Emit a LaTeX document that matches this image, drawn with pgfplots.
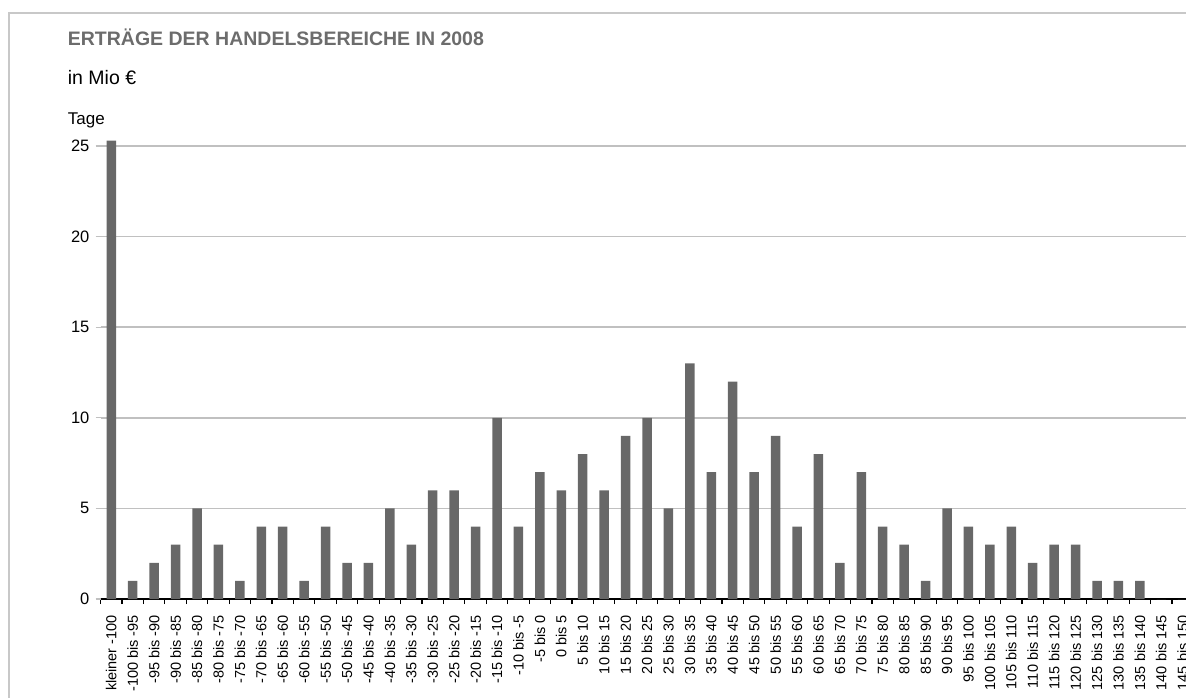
\documentclass[border=0pt]{standalone}
\usepackage{pgfplots}
\pgfplotsset{compat=1.18}
\usepackage{fontspec}
\setmainfont{Liberation Sans}

\definecolor{bargray}{RGB}{104,104,104}
\definecolor{gridgray}{RGB}{192,192,192}
\definecolor{framegray}{RGB}{200,200,200}
\definecolor{titlegray}{RGB}{108,108,108}

\begin{document}
\begin{tikzpicture}[x=1pt,y=1pt]
\path[use as bounding box] (0pt,0pt) rectangle (1186pt,697pt);
\clip (0pt,0pt) rectangle (1186pt,697pt);
% outer frame (only left and top visible in the crop)
\draw[framegray, line width=2.5pt] (9pt,-10pt) -- (9pt,684pt) -- (1200pt,684pt);

\node[anchor=base west, inner sep=0, text=titlegray,
      font=\fontsize{19.5}{22}\selectfont\bfseries] at (67.7pt,651pt)
      {ERTRÄGE DER HANDELSBEREICHE IN 2008};
\node[anchor=base west, inner sep=0, font=\fontsize{19.5}{22}\selectfont]
      at (67.7pt,612pt) {in Mio €};
\node[anchor=base west, inner sep=0, font=\fontsize{17}{20}\selectfont]
      at (67.7pt,572pt) {Tage};

\begin{axis}[
    at={(100.6pt,98pt)}, anchor=south west,
    scale only axis,
    width=1092.9pt, height=459pt,
    xmin=-0.5, xmax=50.5,
    ymin=0, ymax=25.33,
    ybar, bar width=9.5pt,
    axis x line=bottom, axis y line=left,
    axis line style={-},
    x axis line style={black, line width=1.2pt},
    y axis line style={draw=none},
    tick align=outside,
    xtick={0,...,50},
    major x tick style={draw=none},
    minor xtick={-0.5,0.5,...,50.5},
    minor x tick style={black, line width=1.2pt},
    minor tick length=5pt,
    ytick={0,5,...,25},
    major y tick style={gridgray, line width=1.2pt},
    major tick length=5pt,
    ymajorgrids,
    grid style={gridgray, line width=1.5pt},
    /pgf/number format/assume math mode=true,
    yticklabel style={font=\fontsize{16.5}{18}\selectfont, inner sep=0pt},
    yticklabel shift=6pt,
    xticklabel style={font=\fontsize{14.5}{16}\selectfont, rotate=90,
                      anchor=east, inner sep=0pt},
    xticklabel shift=11pt,
    xticklabels={kleiner -100,-100 bis -95,-95 bis -90,-90 bis -85,-85 bis -80,
        -80 bis -75,-75 bis -70,-70 bis -65,-65 bis -60,-60 bis -55,-55 bis -50,
        -50 bis -45,-45 bis -40,-40 bis -35,-35 bis -30,-30 bis -25,-25 bis -20,
        -20 bis -15,-15 bis -10,-10 bis -5,-5 bis 0,0 bis 5,5 bis 10,10 bis 15,
        15 bis 20,20 bis 25,25 bis 30,30 bis 35,35 bis 40,40 bis 45,45 bis 50,
        50 bis 55,55 bis 60,60 bis 65,65 bis 70,70 bis 75,75 bis 80,80 bis 85,
        85 bis 90,90 bis 95,95 bis 100,100 bis 105,105 bis 110,110 bis 115,
        115 bis 120,120 bis 125,125 bis 130,130 bis 135,135 bis 140,140 bis 145,
        145 bis 150},
]
\addplot[fill=bargray, draw=none] coordinates {
    (0,25.3) (1,1) (2,2) (3,3) (4,5) (5,3) (6,1) (7,4) (8,4) (9,1)
    (10,4) (11,2) (12,2) (13,5) (14,3) (15,6) (16,6) (17,4) (18,10) (19,4)
    (20,7) (21,6) (22,8) (23,6) (24,9) (25,10) (26,5) (27,13) (28,7) (29,12)
    (30,7) (31,9) (32,4) (33,8) (34,2) (35,7) (36,4) (37,3) (38,1) (39,5)
    (40,4) (41,3) (42,4) (43,2) (44,3) (45,3) (46,1) (47,1) (48,1) (49,0)
    (50,0)
};
\end{axis}
\end{tikzpicture}
\end{document}
